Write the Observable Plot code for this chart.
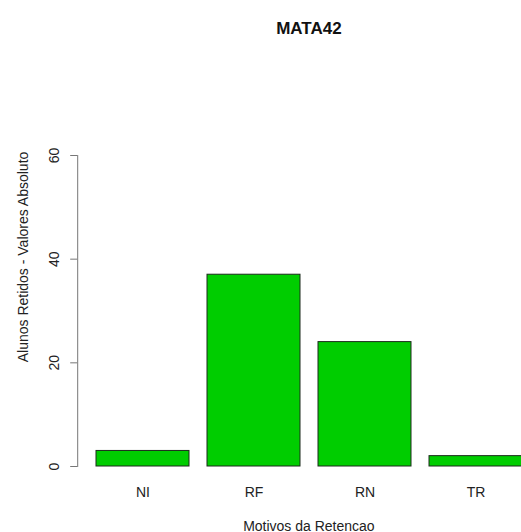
<!DOCTYPE html>
<html>
<head>
<meta charset="utf-8">
<script src="https://cdn.jsdelivr.net/npm/d3@7"></script>
<script src="https://cdn.jsdelivr.net/npm/@observablehq/plot@0.6"></script>
<style>
  html, body { margin: 0; padding: 0; background: #fff; overflow: hidden; }
</style>
</head>
<body>
<div id="chart"></div>
<script>
const categories = ["NI", "RF", "RN", "TR"];
const values = [3, 37, 24, 2];
const yTicks = [0, 20, 40, 60];
const title = "MATA42";
const xLabel = "Motivos da Retencao";
const yLabel = "Alunos Retidos - Valores Absoluto";

const data = categories.map((c, i) => ({motivo: c, alunos: values[i]}));

const chart = Plot.plot({
  width: 521,
  height: 532,
  marginLeft: 77.2,
  marginRight: -18.6,
  marginTop: 155,
  marginBottom: 66,
  style: {fontFamily: "'Liberation Sans', Arial, Helvetica, sans-serif", fontSize: "14px", background: "#fff", color: "#111"},
  x: {domain: categories, paddingInner: 1 / 6, paddingOuter: 0.1533},
  y: {domain: [0, 60]},
  marks: [
    Plot.barY(data, {x: "motivo", y: "alunos", fill: "#00CD00", stroke: "#1d2b1d", strokeWidth: 1}),
    Plot.axisY({ticks: yTicks, tickSize: 7, stroke: "#777", tickFormat: () => "", label: null}),
    Plot.frame({anchor: "left", stroke: "#777"}),
    Plot.text(yTicks, {y: d => d, text: d => String(d), frameAnchor: "left", dx: -19, rotate: -90, textAnchor: "middle", lineAnchor: "bottom", fill: "#222", fontSize: 14}),
    Plot.axisX({tickSize: 0, tickPadding: 21, label: null, fill: "#222", fontSize: 14}),
    Plot.text([xLabel], {frameAnchor: "bottom", dy: 64, textAnchor: "middle", lineAnchor: "bottom", fill: "#222", fontSize: 14}),
    Plot.text([yLabel], {frameAnchor: "left", dx: -50, dy: -54, rotate: -90, textAnchor: "middle", lineAnchor: "bottom", fill: "#222", fontSize: 14}),
    Plot.text([title], {frameAnchor: "top", dy: -134, textAnchor: "middle", fontWeight: "bold", fontSize: 17, fill: "#111"})
  ]
});
document.getElementById("chart").appendChild(chart);
</script>
</body>
</html>
